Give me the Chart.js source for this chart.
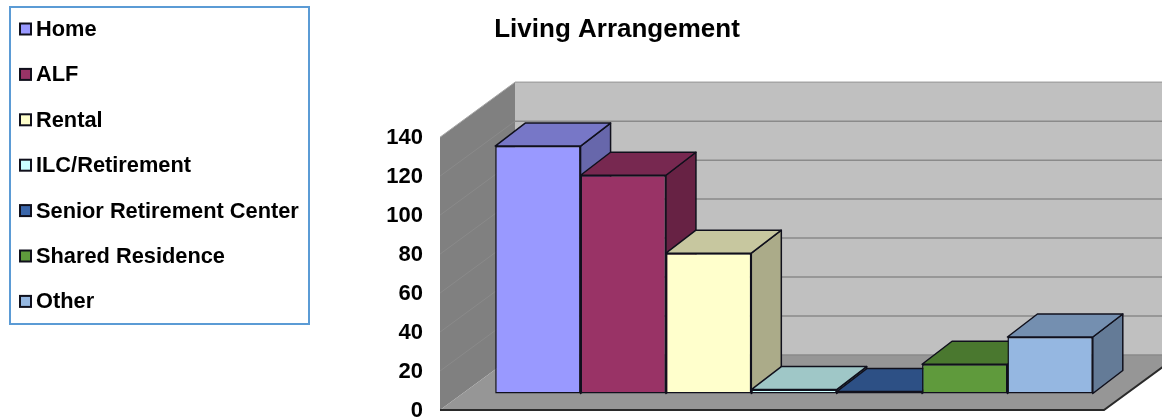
<!DOCTYPE html>
<html>
<head>
<meta charset="utf-8">
<title>Living Arrangement</title>
<script src="https://cdn.jsdelivr.net/npm/chart.js@4"></script>
<style>
    html, body { margin: 0; padding: 0; background: #fff; overflow: hidden; }
    canvas { display: block; }
</style>
</head>
<body>
<canvas id="graficoMoradia" width="1162" height="417"></canvas>
<script>
const categories = ["Home", "ALF", "Rental", "ILC/Retirement", "Senior Retirement Center", "Shared Residence", "Other"];
const residents = [127, 112, 72, 2, 1, 15, 29];
const barColors = ["#9999ff", "#993366", "#ffffcc", "#ccffff", "#3a66aa", "#5f9a3c", "#95b7e1"];
const yMax = 140;
const yStep = 20;

const FONT = "'Liberation Sans', Arial, sans-serif";
const EDGE = "#10101c";

// room depth, bar plane inside the room and depth of each bar
const WALL = {dx: 75, dy: -55};
const PLANE = {dx: 22, dy: -16.5};
const BAR = {dx: 30, dy: -23};

function shade(hex, f) {
    const n = parseInt(hex.slice(1), 16);
    const c = [n >> 16, (n >> 8) & 255, n & 255].map(v => Math.round(v * f));
    return "rgb(" + c.join(",") + ")";
}

function poly(ctx, pts, fill, stroke, lw) {
    ctx.beginPath();
    pts.forEach((p, i) => i ? ctx.lineTo(p[0], p[1]) : ctx.moveTo(p[0], p[1]));
    ctx.closePath();
    ctx.fillStyle = fill;
    ctx.fill();
    if (stroke) {
        ctx.strokeStyle = stroke;
        ctx.lineWidth = lw;
        ctx.lineJoin = "round";
        ctx.stroke();
    }
}

/*
 * Walls and floor behind the bars, and the top and side faces of each bar.
 */
const room3d = {
    id: "room3d",
    beforeDatasetsDraw(chart) {
        const ctx = chart.ctx;
        const y = chart.scales.y;
        const a = chart.chartArea;
        const top = y.getPixelForValue(yMax), base = y.getPixelForValue(0);
        const bx = a.left + WALL.dx;

        // back wall
        poly(ctx, [[bx, top + WALL.dy], [a.right + WALL.dx, top + WALL.dy], [a.right + WALL.dx, base + WALL.dy], [bx, base + WALL.dy]], "#c0c0c0");
        // left wall
        poly(ctx, [[a.left, top], [bx, top + WALL.dy], [bx, base + WALL.dy], [a.left, base]], "#808080");
        // floor
        poly(ctx, [[a.left, base], [bx, base + WALL.dy], [a.right + WALL.dx, base + WALL.dy], [a.right, base]], "#969696");

        // grid on the back wall, continued faintly over the left wall
        for (let v = 0; v <= yMax; v += yStep) {
            const py = y.getPixelForValue(v);
            ctx.lineWidth = 1.5;
            ctx.strokeStyle = v === yMax ? "#a6a6a6" : "#8a8a8a";
            ctx.beginPath();
            ctx.moveTo(bx, py + WALL.dy);
            ctx.lineTo(a.right + WALL.dx, py + WALL.dy);
            ctx.stroke();
            if (v > 0) {
                ctx.strokeStyle = v === yMax ? "#a6a6a6" : "#8a8a8a";
                ctx.lineWidth = 1;
                ctx.beginPath();
                ctx.moveTo(a.left, py);
                ctx.lineTo(bx, py + WALL.dy);
                ctx.stroke();
            }
        }

        // front edges of the floor
        ctx.strokeStyle = "#2a2a2a";
        ctx.lineWidth = 2;
        ctx.beginPath();
        ctx.moveTo(a.left, base);
        ctx.lineTo(a.right, base);
        ctx.lineTo(a.right + WALL.dx, base + WALL.dy);
        ctx.stroke();

        ctx.save();
        ctx.translate(PLANE.dx, PLANE.dy);
        categories.forEach((name, i) => {
            const bar = chart.getDatasetMeta(i).data[0];
            const l = bar.x - bar.width / 2, r = bar.x + bar.width / 2;
            poly(ctx, [[r, bar.y], [r + BAR.dx, bar.y + BAR.dy], [r + BAR.dx, bar.base + BAR.dy], [r, bar.base]], shade(barColors[i], 0.67), EDGE, 1.5);
            poly(ctx, [[l, bar.y], [l + BAR.dx, bar.y + BAR.dy], [r + BAR.dx, bar.y + BAR.dy], [r, bar.y]], shade(barColors[i], 0.78), EDGE, 1.5);
        });
    },
    afterDatasetsDraw(chart) {
        chart.ctx.restore();
    }
};

/*
 * Legend on the left: framed list with one swatch per series.
 */
const sideLegend = {
    id: "sideLegend",
    afterDraw(chart) {
        const ctx = chart.ctx;
        ctx.save();
        ctx.strokeStyle = "#5b9bd5";
        ctx.lineWidth = 2;
        ctx.strokeRect(10, 7, 299, 317);
        ctx.font = "bold 21.8px " + FONT;
        ctx.textBaseline = "middle";
        ctx.textAlign = "left";
        categories.forEach((name, i) => {
            const rowY = 29 + i * 45.4;
            ctx.fillStyle = barColors[i];
            ctx.strokeStyle = EDGE;
            ctx.lineWidth = 2;
            ctx.fillRect(20, rowY - 5.5, 11, 11);
            ctx.strokeRect(20, rowY - 5.5, 11, 11);
            ctx.fillStyle = "#000";
            ctx.fillText(name, 36, rowY + 1);
        });
        ctx.restore();
    }
};

const ctx = document.getElementById("graficoMoradia");
const grafico = new Chart(ctx, {
    type: "bar",
    data: {
        labels: ["Living Arrangement"],
        datasets: categories.map((name, i) => ({
            label: name,
            data: [residents[i]],
            backgroundColor: barColors[i],
            borderColor: EDGE,
            borderWidth: 1.5,
            borderSkipped: false,
            categoryPercentage: 0.9,
            barPercentage: 1,
            clip: false
        }))
    },
    plugins: [room3d, sideLegend],
    options: {
        responsive: false,
        animation: false,
        layout: {padding: {left: 130, right: 58, top: 0, bottom: 7}},
        plugins: {
            legend: {display: false},
            tooltip: {enabled: false},
            title: {
                display: true,
                text: "Living Arrangement",
                color: "#000",
                font: {family: FONT, size: 26, weight: "bold"},
                padding: {top: 14, bottom: 92}
            }
        },
        scales: {
            x: {display: false},
            y: {
                min: 0,
                max: yMax,
                afterFit(s) {
                    s.width = 310;
                    s.paddingTop = 0;
                    s.paddingBottom = 0;
                },
                grid: {display: false},
                border: {display: false},
                ticks: {
                    stepSize: yStep,
                    color: "#000",
                    padding: 9,
                    labelOffset: 1,
                    font: {family: FONT, size: 22, weight: "bold"}
                }
            }
        }
    }
});
</script>
</body>
</html>
